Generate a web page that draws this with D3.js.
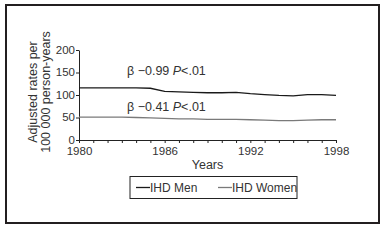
<!DOCTYPE html>
<html>
<head>
<meta charset="utf-8">
<script src="https://cdn.jsdelivr.net/npm/d3@7"></script>
<style>
body{margin:0;background:#fff;}
svg{display:block;font-family:"Liberation Sans",Arial,sans-serif;}
.axis text{font-size:11.5px;fill:#333;}
.axis path,.axis line{stroke:#222;stroke-width:1;}
</style>
</head>
<body>
<svg id="chart" width="385" height="240"></svg>
<script>
var years=[1980,1981,1982,1983,1984,1985,1986,1987,1988,1989,1990,1991,1992,1993,1994,1995,1996,1997,1998];
var men=[116,116,116,116,116,115,108,107,106,105,105,106,103,101,99,98,101,101,99];
var women=[51,51,51,51,50,49,48,47,47,46,46,46,45,44,43,43,44,45,45];
var yTicks=[0,50,100,150,200];
var xTicks=[1980,1986,1992,1998];
var seriesNames=["IHD Men","IHD Women"];
var seriesColors=["#1a1a1a","#7a7a7a"];
var notes=[{beta:"β −0.99 ",p:"P",rest:"<.01",y:75},{beta:"β −0.41 ",p:"P",rest:"<.01",y:111}];

var margin={top:50,right:49,bottom:100,left:79};
var width=385,height=240;

var svg=d3.select('#chart');

// outer frame
svg.append('rect')
  .attr('x',6).attr('y',5)
  .attr('width',373).attr('height',218)
  .attr('fill','none')
  .attr('stroke','#231f20')
  .attr('stroke-width',2);

var x=d3.scaleLinear()
  .domain([1980,1998])
  .range([margin.left,width-margin.right]);

var y=d3.scaleLinear()
  .domain([0,200])
  .range([height-margin.bottom,margin.top]);

// x axis, one tick a year, labels every 6
var xAxis=d3.axisBottom(x)
  .tickValues(years)
  .tickSize(3)
  .tickSizeOuter(0)
  .tickFormat(function(d){return xTicks.indexOf(d)>=0?d:'';});
svg.append('g')
  .attr('class','axis')
  .attr('transform','translate(0,'+y(0)+')')
  .call(xAxis)
  .call(function(g){g.selectAll('text').attr('dy','0.9em').attr('y',5);});

var yAxis=d3.axisLeft(y)
  .tickValues(yTicks)
  .tickSize(3)
  .tickSizeOuter(0);
svg.append('g')
  .attr('class','axis')
  .attr('transform','translate('+x(1980)+',0)')
  .call(yAxis)
  .call(function(g){g.selectAll('text').attr('x',-4).attr('dy','0.3em');});

// axis titles
svg.append('text')
  .attr('x',x(1989)).attr('y',169)
  .attr('text-anchor','middle')
  .attr('font-size',12.5).attr('fill','#333')
  .text('Years');

var yl=svg.append('text')
  .attr('transform','translate(37,'+(y(100)-3)+') rotate(-90)')
  .attr('text-anchor','middle')
  .attr('font-size',12.5).attr('fill','#333');
yl.append('tspan').attr('x',0).attr('dy',0).text('Adjusted rates per');
yl.append('tspan').attr('x',0).attr('dy','1.0em').text('100 000 person-years');

// lines
var line=d3.line()
  .x(function(d,i){return x(years[i]);})
  .y(function(d){return y(d);});

[men,women].forEach(function(s,i){
  svg.append('path')
    .datum(s)
    .attr('fill','none')
    .attr('stroke',seriesColors[i])
    .attr('stroke-width',1.3)
    .attr('d',line);
});

// trend notes
notes.forEach(function(n){
  var t=svg.append('text')
    .attr('x',127).attr('y',n.y)
    .attr('font-size',12.5).attr('fill','#333');
  t.append('tspan').text(n.beta);
  t.append('tspan').attr('font-style','italic').text(n.p);
  t.append('tspan').text(n.rest);
});

// legend
var lg=svg.append('g');
lg.append('rect')
  .attr('x',130).attr('y',176.5)
  .attr('width',167).attr('height',22)
  .attr('fill','none')
  .attr('stroke','#222')
  .attr('stroke-width',1);
var lx=[136,218];
seriesNames.forEach(function(name,i){
  lg.append('line')
    .attr('x1',lx[i]).attr('x2',lx[i]+14)
    .attr('y1',187.5).attr('y2',187.5)
    .attr('stroke',seriesColors[i])
    .attr('stroke-width',1.3);
  lg.append('text')
    .attr('x',lx[i]+14).attr('y',192)
    .attr('font-size',12).attr('fill','#333')
    .text(name);
});
</script>
</body>
</html>
